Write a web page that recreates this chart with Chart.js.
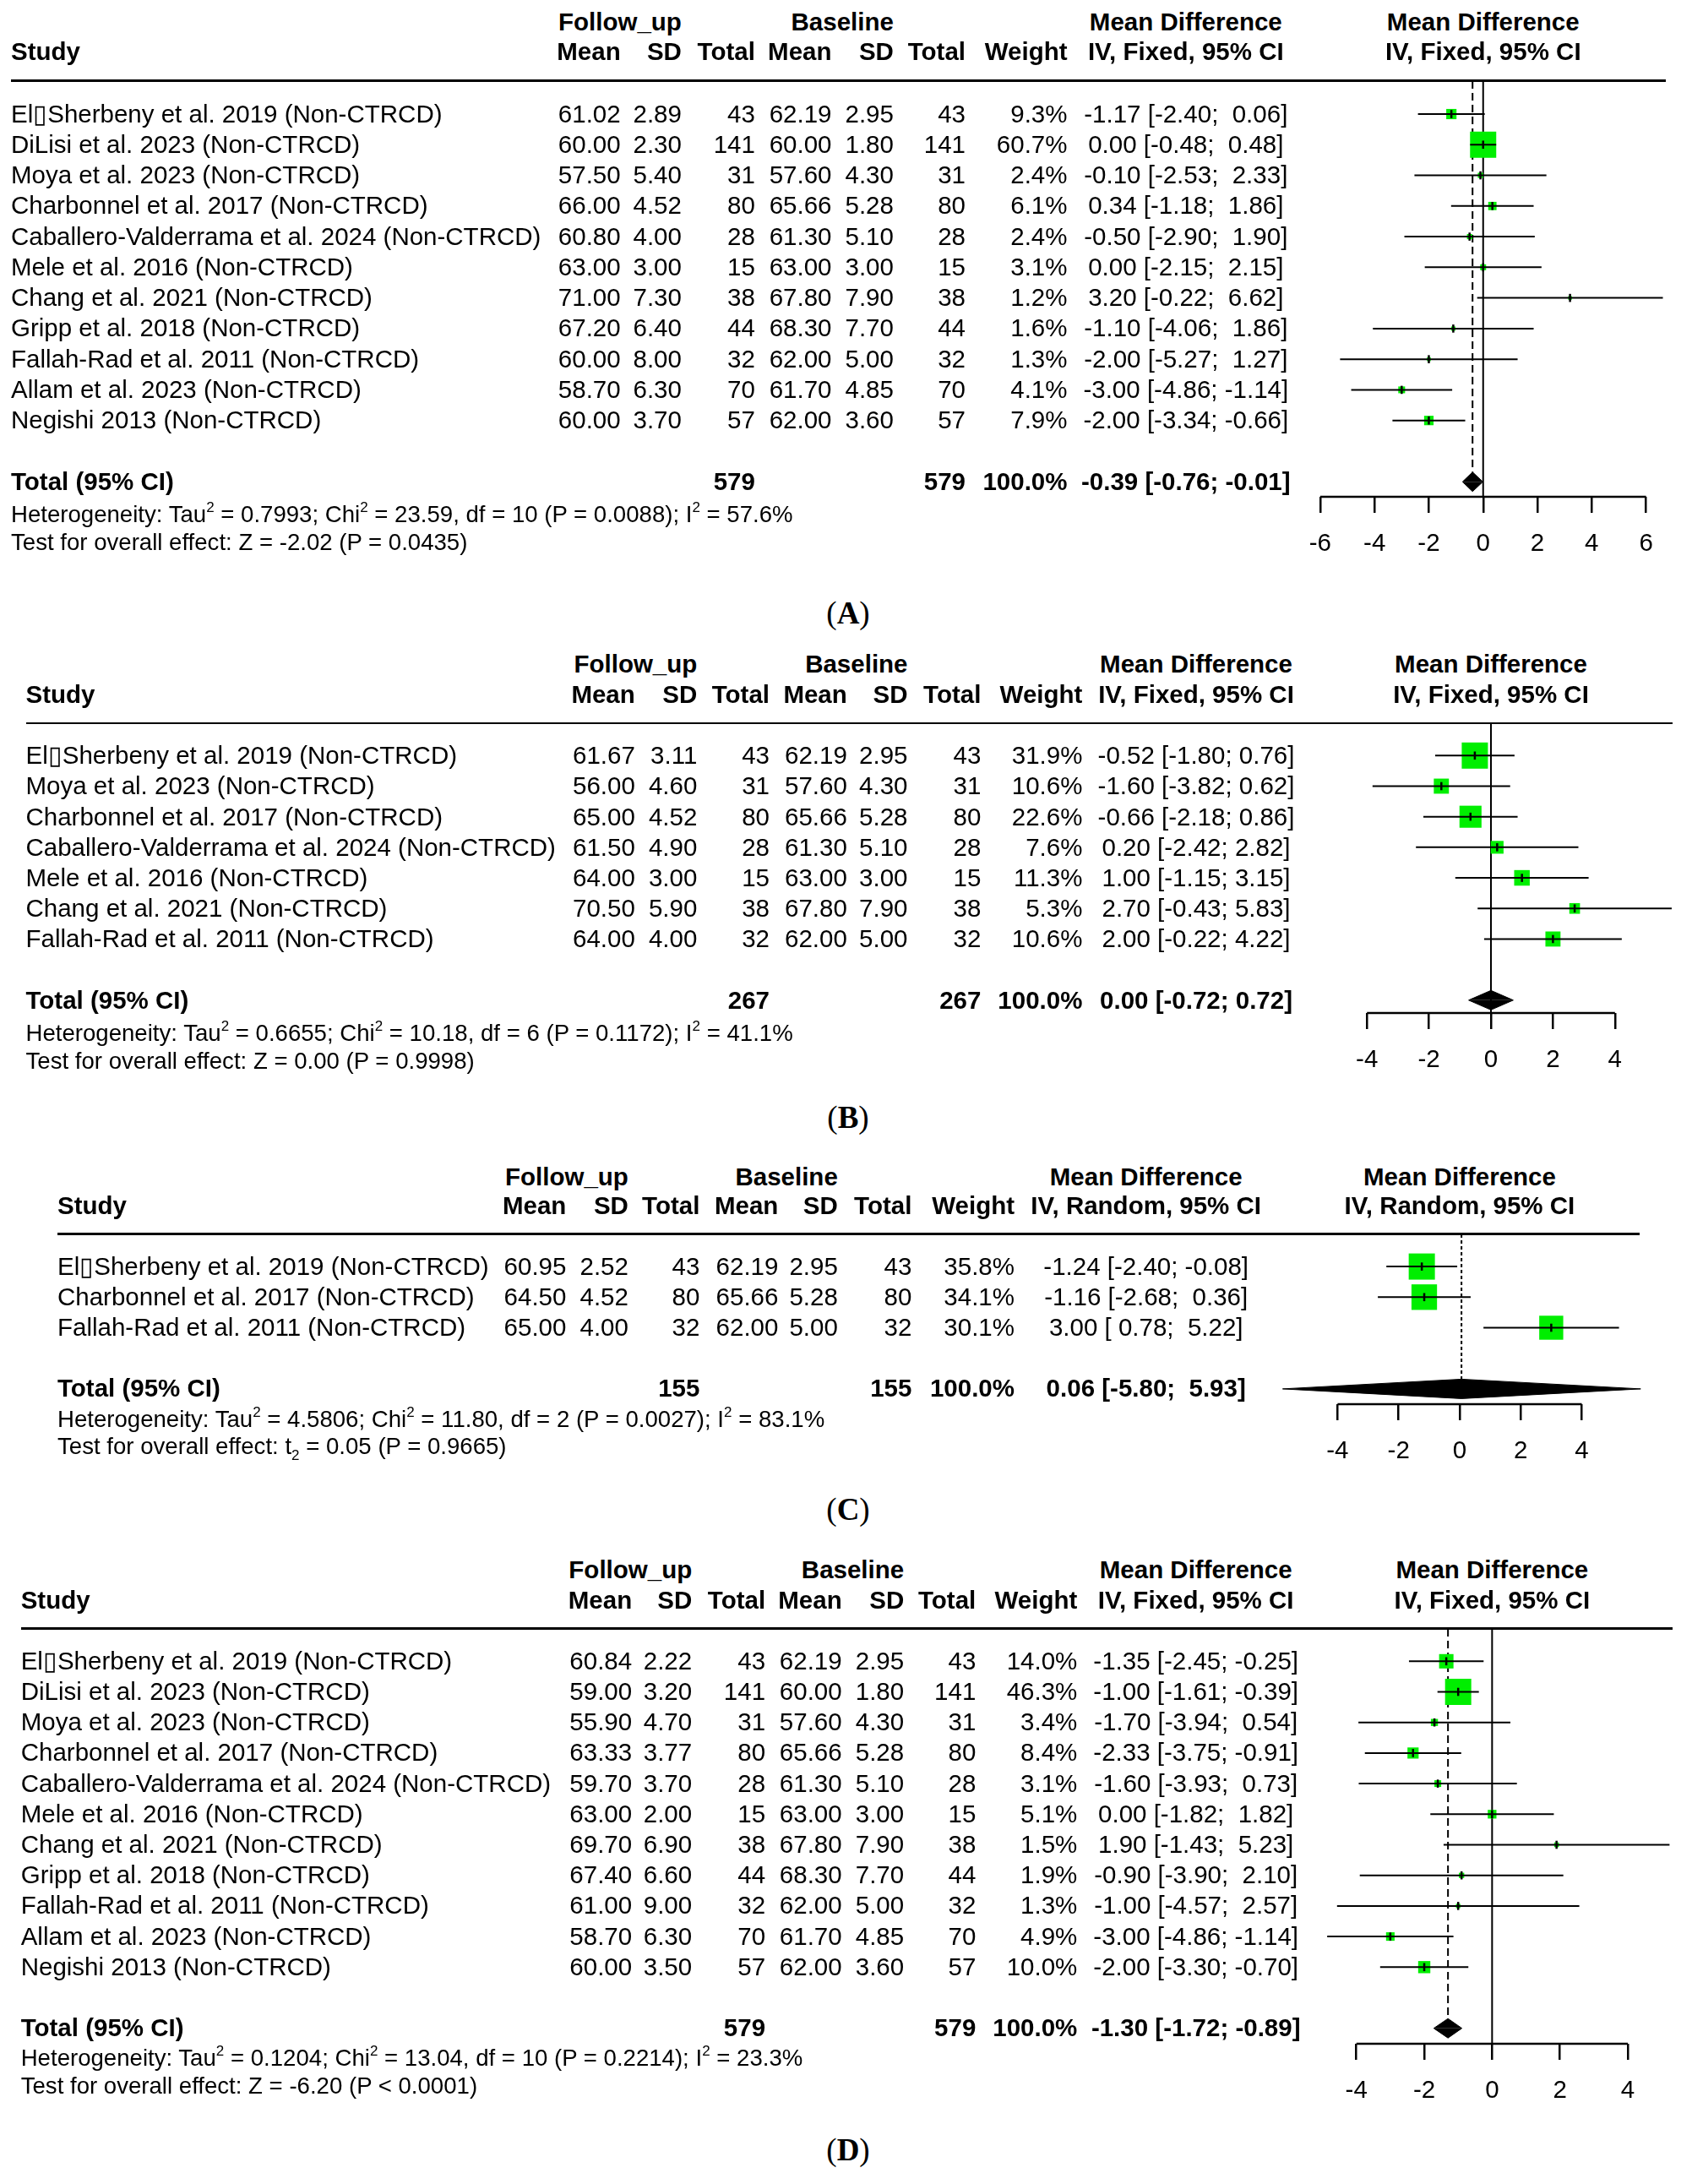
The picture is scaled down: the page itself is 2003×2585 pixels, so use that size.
<!DOCTYPE html>
<html>
<head>
<meta charset="utf-8">
<script src="https://cdn.jsdelivr.net/npm/chart.js@4.4.1/dist/chart.umd.min.js"></script>
<style>
  body { margin: 0; background: #fff; }
  #page { position: relative; width: 2003px; height: 2585px; overflow: hidden; background: #fff;
          font-family: "Liberation Sans", Arial, sans-serif; color: #000; }
  .t { position: absolute; white-space: pre; font-size: 29.5px; height: 36px; line-height: 36px; }
  .b { font-weight: bold; }
  .r { transform: translateX(-100%); }
  .c { transform: translateX(-50%); }
  .small { font-size: 27.6px; }
  .sup { font-size: 17px; position: relative; top: -12px; }
  .sub { font-size: 17px; position: relative; top: 7px; }
  .lab { font-family: "Liberation Serif", "Times New Roman", serif; font-size: 37px; height: 44px; line-height: 44px; }
  .rule { position: absolute; height: 2.5px; background: #000; }
  canvas { position: absolute; left: 0; }
</style>
</head>
<body>
<div id="page"></div>
<script>
// ---------- Panel A (IV, Fixed) ----------
const studiesA = ['El\u25AFSherbeny et al. 2019 (Non-CTRCD)', 'DiLisi et al. 2023 (Non-CTRCD)', 'Moya et al. 2023 (Non-CTRCD)',
  'Charbonnel et al. 2017 (Non-CTRCD)', 'Caballero-Valderrama et al. 2024 (Non-CTRCD)', 'Mele et al. 2016 (Non-CTRCD)',
  'Chang et al. 2021 (Non-CTRCD)', 'Gripp et al. 2018 (Non-CTRCD)', 'Fallah-Rad et al. 2011 (Non-CTRCD)',
  'Allam et al. 2023 (Non-CTRCD)', 'Negishi 2013 (Non-CTRCD)'];
const fuMeanA = [61.02, 60.00, 57.50, 66.00, 60.80, 63.00, 71.00, 67.20, 60.00, 58.70, 60.00];
const fuSdA = [2.89, 2.30, 5.40, 4.52, 4.00, 3.00, 7.30, 6.40, 8.00, 6.30, 3.70];
const fuNA = [43, 141, 31, 80, 28, 15, 38, 44, 32, 70, 57];
const blMeanA = [62.19, 60.00, 57.60, 65.66, 61.30, 63.00, 67.80, 68.30, 62.00, 61.70, 62.00];
const blSdA = [2.95, 1.80, 4.30, 5.28, 5.10, 3.00, 7.90, 7.70, 5.00, 4.85, 3.60];
const blNA = [43, 141, 31, 80, 28, 15, 38, 44, 32, 70, 57];
const weightA = [9.3, 60.7, 2.4, 6.1, 2.4, 3.1, 1.2, 1.6, 1.3, 4.1, 7.9];
const mdA = [-1.17, 0.00, -0.10, 0.34, -0.50, 0.00, 3.20, -1.10, -2.00, -3.00, -2.00];
const loA = [-2.40, -0.48, -2.53, -1.18, -2.90, -2.15, -0.22, -4.06, -5.27, -4.86, -3.34];
const hiA = [0.06, 0.48, 2.33, 1.86, 1.90, 2.15, 6.62, 1.86, 1.27, -1.14, -0.66];
const totalA = [-0.39, -0.76, -0.01];
const totalNA = [579, 579];
const hetA = ['0.7993', '23.59', '10', '0.0088', '57.6'];
const testA = ['Z', '-2.02', '= 0.0435'];
const ticksA = [-6, -4, -2, 0, 2, 4, 6];

// ---------- Panel B (IV, Fixed) ----------
const studiesB = ['El\u25AFSherbeny et al. 2019 (Non-CTRCD)', 'Moya et al. 2023 (Non-CTRCD)', 'Charbonnel et al. 2017 (Non-CTRCD)',
  'Caballero-Valderrama et al. 2024 (Non-CTRCD)', 'Mele et al. 2016 (Non-CTRCD)', 'Chang et al. 2021 (Non-CTRCD)',
  'Fallah-Rad et al. 2011 (Non-CTRCD)'];
const fuMeanB = [61.67, 56.00, 65.00, 61.50, 64.00, 70.50, 64.00];
const fuSdB = [3.11, 4.60, 4.52, 4.90, 3.00, 5.90, 4.00];
const fuNB = [43, 31, 80, 28, 15, 38, 32];
const blMeanB = [62.19, 57.60, 65.66, 61.30, 63.00, 67.80, 62.00];
const blSdB = [2.95, 4.30, 5.28, 5.10, 3.00, 7.90, 5.00];
const blNB = [43, 31, 80, 28, 15, 38, 32];
const weightB = [31.9, 10.6, 22.6, 7.6, 11.3, 5.3, 10.6];
const mdB = [-0.52, -1.60, -0.66, 0.20, 1.00, 2.70, 2.00];
const loB = [-1.80, -3.82, -2.18, -2.42, -1.15, -0.43, -0.22];
const hiB = [0.76, 0.62, 0.86, 2.82, 3.15, 5.83, 4.22];
const totalB = [0.00, -0.72, 0.72];
const totalNB = [267, 267];
const hetB = ['0.6655', '10.18', '6', '0.1172', '41.1'];
const testB = ['Z', '0.00', '= 0.9998'];
const ticksB = [-4, -2, 0, 2, 4];

// ---------- Panel C (IV, Random) ----------
const studiesC = ['El\u25AFSherbeny et al. 2019 (Non-CTRCD)', 'Charbonnel et al. 2017 (Non-CTRCD)', 'Fallah-Rad et al. 2011 (Non-CTRCD)'];
const fuMeanC = [60.95, 64.50, 65.00];
const fuSdC = [2.52, 4.52, 4.00];
const fuNC = [43, 80, 32];
const blMeanC = [62.19, 65.66, 62.00];
const blSdC = [2.95, 5.28, 5.00];
const blNC = [43, 80, 32];
const weightC = [35.8, 34.1, 30.1];
const mdC = [-1.24, -1.16, 3.00];
const loC = [-2.40, -2.68, 0.78];
const hiC = [-0.08, 0.36, 5.22];
const totalC = [0.06, -5.80, 5.93];
const totalNC = [155, 155];
const hetC = ['4.5806', '11.80', '2', '0.0027', '83.1'];
const testC = ['t<span class="sub">2</span>', '0.05', '= 0.9665'];
const ticksC = [-4, -2, 0, 2, 4];

// ---------- Panel D (IV, Fixed) ----------
const studiesD = studiesA.slice();
const fuMeanD = [60.84, 59.00, 55.90, 63.33, 59.70, 63.00, 69.70, 67.40, 61.00, 58.70, 60.00];
const fuSdD = [2.22, 3.20, 4.70, 3.77, 3.70, 2.00, 6.90, 6.60, 9.00, 6.30, 3.50];
const fuND = [43, 141, 31, 80, 28, 15, 38, 44, 32, 70, 57];
const blMeanD = [62.19, 60.00, 57.60, 65.66, 61.30, 63.00, 67.80, 68.30, 62.00, 61.70, 62.00];
const blSdD = [2.95, 1.80, 4.30, 5.28, 5.10, 3.00, 7.90, 7.70, 5.00, 4.85, 3.60];
const blND = [43, 141, 31, 80, 28, 15, 38, 44, 32, 70, 57];
const weightD = [14.0, 46.3, 3.4, 8.4, 3.1, 5.1, 1.5, 1.9, 1.3, 4.9, 10.0];
const mdD = [-1.35, -1.00, -1.70, -2.33, -1.60, 0.00, 1.90, -0.90, -1.00, -3.00, -2.00];
const loD = [-2.45, -1.61, -3.94, -3.75, -3.93, -1.82, -1.43, -3.90, -4.57, -4.86, -3.30];
const hiD = [-0.25, -0.39, 0.54, -0.91, 0.73, 1.82, 5.23, 2.10, 2.57, -1.14, -0.70];
const totalD = [-1.30, -1.72, -0.89];
const totalND = [579, 579];
const hetD = ['0.1204', '13.04', '10', '0.2214', '23.3'];
const testD = ['Z', '-6.20', '< 0.0001'];
const ticksD = [-4, -2, 0, 2, 4];

// ---------- layout ----------
const FONT = '"Liberation Sans", Arial, sans-serif';
const GREEN = '#00ee00';
const MAX_SIDE = 31;     // side of the heaviest square
const DIAMOND_H = 11.5;  // half height of pooled diamond
const AREA_L = 1490, AREA_R = 2000;

const panels = [
  { tag: 'A', model: 'Fixed', nullLine: true, dash: [9, 5],
    studies: studiesA, fuMean: fuMeanA, fuSd: fuSdA, fuN: fuNA, blMean: blMeanA, blSd: blSdA, blN: blNA,
    weight: weightA, md: mdA, lo: loA, hi: hiA, total: totalA, totalN: totalNA, het: hetA, test: testA, ticks: ticksA,
    studyX: 13, ruleR: 1972, h1: 25.5, h2: 61, ruleY: 95.5, row0Y: 134.5, step: 36.27, axisY: 587,
    hetY: 608.5, testY: 641.5, labelY: 725.5,
    cols: [734.7, 806.9, 893.9, 984.5, 1057.9, 1143, 1263.5], mdX: 1403.8, pxMin: 1562.9, pxMax: 1948.6 },
  { tag: 'B', model: 'Fixed', nullLine: true, dash: [9, 5],
    studies: studiesB, fuMean: fuMeanB, fuSd: fuSdB, fuN: fuNB, blMean: blMeanB, blSd: blSdB, blN: blNB,
    weight: weightB, md: mdB, lo: loB, hi: hiB, total: totalB, totalN: totalNB, het: hetB, test: testB, ticks: ticksB,
    studyX: 30.5, ruleR: 1980, h1: 786, h2: 822, ruleY: 856, row0Y: 894.3, step: 36.19, axisY: 1199,
    hetY: 1222.5, testY: 1255.8, labelY: 1323,
    cols: [751.8, 825.3, 911, 1002.8, 1074.5, 1161.4, 1281.4], mdX: 1416, pxMin: 1618.2, pxMax: 1911.8 },
  { tag: 'C', model: 'Random', nullLine: false, dash: [4, 3],
    studies: studiesC, fuMean: fuMeanC, fuSd: fuSdC, fuN: fuNC, blMean: blMeanC, blSd: blSdC, blN: blNC,
    weight: weightC, md: mdC, lo: loC, hi: hiC, total: totalC, totalN: totalNC, het: hetC, test: testC, ticks: ticksC,
    studyX: 68, ruleR: 1941, h1: 1392.5, h2: 1427, ruleY: 1460.5, row0Y: 1498.6, step: 36.2, axisY: 1661.7,
    hetY: 1679.5, testY: 1711.8, labelY: 1787,
    cols: [670.4, 743.9, 828.4, 921.4, 991.8, 1079.4, 1201], mdX: 1356.7, pxMin: 1583.4, pxMax: 1872.5 },
  { tag: 'D', model: 'Fixed', nullLine: true, dash: [9, 5],
    studies: studiesD, fuMean: fuMeanD, fuSd: fuSdD, fuN: fuND, blMean: blMeanD, blSd: blSdD, blN: blND,
    weight: weightD, md: mdD, lo: loD, hi: hiD, total: totalD, totalN: totalND, het: hetD, test: testD, ticks: ticksD,
    studyX: 24.7, ruleR: 1980, h1: 1858, h2: 1894, ruleY: 1927.5, row0Y: 1965.8, step: 36.2, axisY: 2418.6,
    hetY: 2436, testY: 2469, labelY: 2545,
    cols: [748.2, 819.2, 906.1, 996.7, 1070.2, 1155.3, 1275.3], mdX: 1415.7, pxMin: 1605.7, pxMax: 1927 }
];

const page = document.getElementById('page');

function put(x, y, text, cls, html) {
  const d = document.createElement('div');
  d.className = 't ' + (cls || '');
  const h = (cls || '').includes('lab') ? 44 : 36;
  d.style.left = x + 'px';
  d.style.top = (y - h / 2) + 'px';
  if (html) d.innerHTML = text; else d.textContent = text;
  page.appendChild(d);
}

const f2 = v => v.toFixed(2);
function padLeft(strs) {
  const w = Math.max(...strs.map(s => s.length));
  return strs.map(s => ' '.repeat(w - s.length) + s);
}
// "est [lo; hi]" strings, padded like meta does (last one is the pooled row)
function ciStrings(md, lo, hi, tot) {
  const los = padLeft(lo.concat([tot[1]]).map(f2));
  const his = padLeft(hi.concat([tot[2]]).map(f2));
  return md.concat([tot[0]]).map((e, i) => `${f2(e)} [${los[i]}; ${his[i]}]`);
}

function drawPanel(p) {
  const n = p.studies.length;
  const totRow = n + 1;
  const top = p.ruleY - 20;
  const bottom = p.axisY + 100;
  const cv = document.createElement('canvas');
  cv.width = 2003;
  cv.height = Math.round(bottom - top);
  cv.style.top = top + 'px';
  page.appendChild(cv);

  const t0 = p.ticks[0], t1 = p.ticks[p.ticks.length - 1];
  const unit = (p.pxMax - p.pxMin) / (t1 - t0);
  const xMin = t0 - (p.pxMin - AREA_L) / unit;
  const xMax = t1 + (AREA_R - p.pxMax) / unit;
  const yMin = (p.ruleY - p.row0Y) / p.step;
  const yMax = (cv.height - 100 - 20 + p.ruleY - p.row0Y) / p.step;
  const rows = p.studies.map((s, i) => i);
  const wMax = Math.max(...p.weight);
  const dh = DIAMOND_H / p.step;
  const [tMd, tLo, tHi] = p.total;

  const datasets = [];
  // reference lines
  if (p.nullLine) {
    datasets.push({ data: [{ x: 0, y: yMin }, { x: 0, y: yMax }], borderColor: '#000', borderWidth: 2, order: 6 });
  }
  datasets.push({ data: [{ x: tMd, y: yMin }, { x: tMd, y: totRow - dh }], borderColor: '#000', borderWidth: 2,
    borderDash: p.dash, order: 6 });
  // weight squares
  datasets.push({ data: rows.map(i => ({ x: p.md[i], y: i })), showLine: false, pointStyle: 'rect',
    pointRadius: p.weight.map(w => MAX_SIDE * Math.sqrt(w / wMax) / Math.SQRT2),
    pointBackgroundColor: GREEN, pointBorderWidth: 0, order: 5 });
  // confidence intervals
  rows.forEach(i => datasets.push({ data: [{ x: p.lo[i], y: i }, { x: p.hi[i], y: i }],
    borderColor: '#000', borderWidth: 2, order: 4 }));
  // point estimate ticks
  datasets.push({ data: rows.map(i => ({ x: p.md[i], y: i })), showLine: false, pointStyle: 'line',
    pointRotation: 90, pointRadius: 4.8, pointBorderColor: '#000', pointBorderWidth: 2.5, order: 3 });
  // pooled diamond
  [-dh, dh].forEach(d => datasets.push({
    data: [{ x: tLo, y: totRow }, { x: tMd, y: totRow + d }, { x: tHi, y: totRow }],
    borderColor: '#000', backgroundColor: '#000', borderWidth: 1, fill: { value: totRow }, order: 2 }));
  // axis line over the tick range only
  datasets.push({ data: [{ x: t0, y: yMax }, { x: t1, y: yMax }], borderColor: '#000', borderWidth: 2.5, order: 1 });
  datasets.forEach(d => {
    d.clip = false;
    d.tension = 0;
    if (d.fill === undefined) d.fill = false;
    if (d.pointRadius === undefined) d.pointRadius = 0;
  });

  const chart = new Chart(cv, {
    type: 'line',
    data: { datasets },
    options: {
      responsive: false,
      animation: false,
      events: [],
      devicePixelRatio: 1,
      layout: { autoPadding: false, padding: { left: AREA_L, right: 2003 - AREA_R, top: 20, bottom: 0 } },
      plugins: { legend: { display: false }, tooltip: { enabled: false } },
      scales: {
        x: {
          type: 'linear', min: xMin, max: xMax, bounds: 'data',
          afterBuildTicks: s => { s.ticks = p.ticks.map(v => ({ value: v })); },
          afterFit: s => { s.height = 100; },
          border: { display: false },
          grid: { drawOnChartArea: false, drawTicks: true, tickLength: 19, color: '#000', lineWidth: 2.5 },
          ticks: { color: '#000', padding: 19, maxRotation: 0, autoSkip: false, font: { family: FONT, size: 29.5 } }
        },
        y: { type: 'linear', display: false, reverse: true, min: yMin, max: yMax }
      }
    }
  });

  const xs = chart.scales.x, ys = chart.scales.y;
  const rowY = i => top + ys.getPixelForValue(i);
  const zeroX = xs.getPixelForValue(0);
  const [cMean, cSd, cTot, bMean, bSd, bTot, cW] = p.cols;
  const ivLabel = `IV, ${p.model}, 95% CI`;

  // headers
  put(cSd, p.h1, 'Follow_up', 'b r');
  put(bSd, p.h1, 'Baseline', 'b r');
  put(p.mdX, p.h1, 'Mean Difference', 'b c');
  put(zeroX, p.h1, 'Mean Difference', 'b c');
  put(p.studyX, p.h2, 'Study', 'b');
  put(cMean, p.h2, 'Mean', 'b r');
  put(cSd, p.h2, 'SD', 'b r');
  put(cTot, p.h2, 'Total', 'b r');
  put(bMean, p.h2, 'Mean', 'b r');
  put(bSd, p.h2, 'SD', 'b r');
  put(bTot, p.h2, 'Total', 'b r');
  put(cW, p.h2, 'Weight', 'b r');
  put(p.mdX, p.h2, ivLabel, 'b c');
  put(zeroX, p.h2, ivLabel, 'b c');

  const rule = document.createElement('div');
  rule.className = 'rule';
  rule.style.left = p.studyX + 'px';
  rule.style.top = (p.ruleY - 1.25) + 'px';
  rule.style.width = (p.ruleR - p.studyX) + 'px';
  page.appendChild(rule);

  // study rows
  const ci = ciStrings(p.md, p.lo, p.hi, p.total);
  rows.forEach(i => {
    const y = rowY(i);
    put(p.studyX, y, p.studies[i]);
    put(cMean, y, f2(p.fuMean[i]), 'r');
    put(cSd, y, f2(p.fuSd[i]), 'r');
    put(cTot, y, String(p.fuN[i]), 'r');
    put(bMean, y, f2(p.blMean[i]), 'r');
    put(bSd, y, f2(p.blSd[i]), 'r');
    put(bTot, y, String(p.blN[i]), 'r');
    put(cW, y, p.weight[i].toFixed(1) + '%', 'r');
    put(p.mdX, y, ci[i], 'c');
  });

  // pooled row
  const ty = rowY(totRow);
  put(p.studyX, ty, 'Total (95% CI)', 'b');
  put(cTot, ty, String(p.totalN[0]), 'b r');
  put(bTot, ty, String(p.totalN[1]), 'b r');
  put(cW, ty, '100.0%', 'b r');
  put(p.mdX, ty, ci[n], 'b c');

  const h = p.het;
  put(p.studyX, p.hetY, `Heterogeneity: Tau<span class="sup">2</span> = ${h[0]}; Chi<span class="sup">2</span> = ${h[1]}, df = ${h[2]} (P = ${h[3]}); I<span class="sup">2</span> = ${h[4]}%`, 'small', true);
  put(p.studyX, p.testY, `Test for overall effect: ${p.test[0]} = ${p.test[1]} (P ${p.test[2]})`, 'small', true);
  put(1004, p.labelY, `(<b>${p.tag}</b>)`, 'lab c', true);
}

panels.forEach(drawPanel);
</script>
</body>
</html>
